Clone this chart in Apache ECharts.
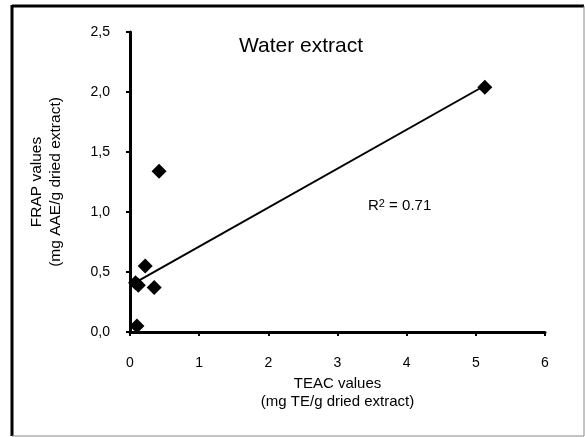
<!DOCTYPE html>
<html><head><meta charset="utf-8">
<script src="https://cdn.jsdelivr.net/npm/echarts@6/dist/echarts.min.js"></script>
<style>html,body{margin:0;padding:0;background:#fff}#c{width:585px;height:437px}</style>
</head><body><div id="c"></div>
<script>
const teac = [5.13, 0.42, 0.22, 0.08, 0.12, 0.35, 0.10];
const frap = [2.04, 1.34, 0.55, 0.41, 0.39, 0.37, 0.05];
const trendX = [0.10, 5.12];
const trendY = [0.42, 2.05];
const xTicks = ['0','1','2','3','4','5','6'];
const yTicks = ['0,0','0,5','1,0','1,5','2,0','2,5'];
const font = 'Liberation Sans, Arial, sans-serif';
const chart = echarts.init(document.getElementById('c'), null, {renderer:'canvas'});
chart.setOption({
  animation:false,
  grid:{left:130, right:40, top:32, bottom:105, containLabel:false},
  title:{text:'Water extract', left:296, top:31, textAlign:'center',
    textStyle:{fontFamily:font, fontSize:21, fontWeight:'normal', color:'#000'}},
  xAxis:{type:'value', min:0, max:6, interval:1,
    name:'TEAC values\n(mg TE/g dried extract)', nameLocation:'middle', nameGap:42,
    nameTextStyle:{fontFamily:font, fontSize:15, color:'#000', lineHeight:18},
    axisLine:{onZero:false, lineStyle:{color:'#000', width:3}},
    axisTick:{show:true, length:4, lineStyle:{color:'#000', width:2}},
    axisLabel:{fontFamily:font, fontSize:14, color:'#000', margin:24, formatter:v=>xTicks[Math.round(v)]},
    splitLine:{show:false}},
  yAxis:{type:'value', min:0, max:2.5, interval:0.5,
    name:'FRAP values\n(mg AAE/g dried extract)', nameLocation:'middle', nameGap:65,
    nameTextStyle:{fontFamily:font, fontSize:15.5, color:'#000', lineHeight:19},
    axisLine:{show:true, onZero:false, lineStyle:{color:'#000', width:3}},
    axisTick:{show:true, length:4, lineStyle:{color:'#000', width:2}},
    axisLabel:{fontFamily:font, fontSize:14, color:'#000', margin:20, formatter:v=>yTicks[Math.round(v*2)]},
    splitLine:{show:false}},
  graphic:[
    {type:'line', shape:{x1:12, y1:6, x2:584, y2:6}, style:{stroke:'#000', lineWidth:3}},
    {type:'line', shape:{x1:12, y1:5, x2:12, y2:436}, style:{stroke:'#000', lineWidth:3}},
    {type:'line', shape:{x1:584, y1:6, x2:584, y2:436}, style:{stroke:'#888', lineWidth:1}},
    {type:'line', shape:{x1:12, y1:436, x2:584, y2:436}, style:{stroke:'#888', lineWidth:1}},
    {type:'text', left:368, top:198, style:{text:'R{s|2} = 0.71', font:'15px '+font, fill:'#000',
      rich:{s:{fontSize:11, verticalAlign:'top', padding:[0,0,5,0], fontFamily:font}}}}
  ],
  series:[
    {type:'line', data:trendX.map((x,i)=>[x,trendY[i]]), symbol:'none',
      lineStyle:{color:'#000', width:2}, z:2},
    {type:'scatter', data:teac.map((x,i)=>[x,frap[i]]), symbol:'diamond', symbolSize:[15,15],
      itemStyle:{color:'#000', opacity:1}, z:3}
  ]
});
</script></body></html>
